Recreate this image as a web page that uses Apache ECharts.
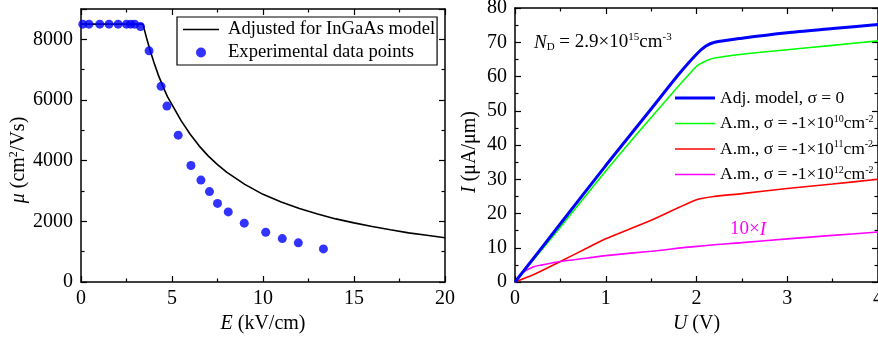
<!DOCTYPE html>
<html><head><meta charset="utf-8">
<script src="https://cdn.jsdelivr.net/npm/echarts@6/dist/echarts.min.js"></script>
<style>html,body{margin:0;padding:0;background:#fff}#c{width:878px;height:341px}</style>
</head><body><div id="c"></div>
<script>
// Left panel: mobility vs field
const modelE  = [0, 3.4, 3.5, 3.6, 3.8, 4, 4.25, 4.5, 4.75, 5, 5.5, 6, 6.5, 7, 7.5, 8, 9, 10, 11, 12, 13, 14, 15, 16, 17, 18, 19, 20];
const modelMu = [8500, 8500, 8280, 8050, 7630, 7250, 6820, 6450, 6110, 5850, 5320, 4870, 4480, 4150, 3870, 3620, 3220, 2890, 2640, 2420, 2240, 2080, 1950, 1830, 1720, 1620, 1540, 1460];
const expE  = [0.1, 0.44, 1.03, 1.54, 2.04, 2.5, 2.73, 2.95, 3.27, 3.74, 4.40, 4.72, 5.34, 6.04, 6.59, 7.06, 7.50, 8.09, 8.97, 10.15, 11.06, 11.94, 13.32];
const expMu = [8500, 8500, 8500, 8500, 8500, 8500, 8500, 8500, 8420, 7620, 6450, 5800, 4840, 3840, 3360, 2980, 2590, 2310, 1940, 1640, 1430, 1290, 1090];
// Right panel: current vs voltage
const uBlue = [0, 0.5, 1, 1.5, 1.8, 2, 2.1, 2.2, 2.5, 3, 3.5, 4];
const iBlue = [0, 17, 34, 50.5, 60.5, 66.5, 68.8, 70, 71.2, 72.8, 74, 75.2];
const uGreen = [0, 0.5, 1, 1.5, 2, 2.1, 2.2, 2.5, 3, 3.5, 4];
const iGreen = [0, 16, 32.4, 48, 63, 64.5, 65.4, 66.5, 67.8, 69.1, 70.4];
const uRed = [0, 0.2, 0.5, 0.8, 1, 1.5, 2, 2.2, 2.5, 3, 3.5, 4];
const iRed = [0, 2.1, 6, 10, 12.6, 18, 24, 25, 25.8, 27.3, 28.6, 30];
const uMag = [0, 0.1, 0.2, 0.3, 0.5, 0.8, 1, 1.5, 2, 2.5, 3, 3.5, 4];
const iMag = [0, 3.0, 4.4, 5.0, 6.0, 7.0, 7.7, 9.0, 10.4, 11.5, 12.6, 13.6, 14.6];
const leftXTicks = [0, 5, 10, 15, 20];
const leftYTicks = [0, 2000, 4000, 6000, 8000];
const rightXTicks = [0, 1, 2, 3, 4];
const rightYTicks = [0, 10, 20, 30, 40, 50, 60, 70, 80];
const seriesNames = ['Adjusted for InGaAs model', 'Experimental data points', 'Adj. model, σ = 0', 'A.m., σ = -1×10^10', 'A.m., σ = -1×10^11', 'A.m., σ = -1×10^12'];

const zip = (a, b) => a.map((v, i) => [v, b[i]]);
const FONT = 'Liberation Serif';
const FS = 20;
function rich(fs) {
  return {
    i: {fontStyle: 'italic', fontFamily: FONT, fontSize: fs, color: '#000'},
    sup: {fontSize: Math.round(fs * 0.58), fontFamily: FONT, verticalAlign: 'top', padding: [0, 0, Math.round(fs * 0.52), 0], color: '#000'},
    sub: {fontSize: Math.round(fs * 0.58), fontFamily: FONT, padding: [Math.round(fs * 0.47), 0, 0, 0], color: '#000'}
  };
}
function axisCommon(min, max, interval, showLabel, pos) {
  return {
    type: 'value', min, max, interval, position: pos,
    axisLine: {show: true, onZero: false, lineStyle: {color: '#000', width: 1.5}},
    axisTick: {show: true, inside: true, length: 6, lineStyle: {color: '#000', width: 1.2}},
    minorTick: {show: true, splitNumber: 2, length: 3.5, lineStyle: {color: '#000', width: 1.2}},
    splitLine: {show: false},
    axisLabel: {show: showLabel, color: '#000', fontFamily: FONT, fontSize: FS, margin: 7, hideOverlap: false, showMinLabel: true, showMaxLabel: true}
  };
}
const lineIcon = (w, h) => 'path://M0,0L' + w + ',0L' + w + ',' + h + 'L0,' + h + 'Z';
const chart = echarts.init(document.getElementById('c'), null, {renderer: 'canvas'});
const option = {
  backgroundColor: '#fff',
  animation: false,
  textStyle: {fontFamily: FONT},
  grid: [
    {left: 81, right: 433, top: 9, bottom: 59, containLabel: false, outerBoundsMode: 'none'},
    {left: 515, right: 0, top: 8, bottom: 59, containLabel: false, outerBoundsMode: 'none'}
  ],
  xAxis: [
    Object.assign(axisCommon(leftXTicks[0], leftXTicks[leftXTicks.length - 1], 5, true, 'bottom'), {gridIndex: 0,
      name: '{i|E} (kV/cm)', nameLocation: 'middle', nameGap: 30,
      nameTextStyle: {fontFamily: FONT, fontSize: FS, color: '#000', rich: rich(FS)}}),
    Object.assign(axisCommon(leftXTicks[0], leftXTicks[leftXTicks.length - 1], 5, false, 'top'), {gridIndex: 0}),
    Object.assign(axisCommon(rightXTicks[0], rightXTicks[rightXTicks.length - 1], 1, true, 'bottom'), {gridIndex: 1,
      name: '{i|U} (V)', nameLocation: 'middle', nameGap: 30,
      nameTextStyle: {fontFamily: FONT, fontSize: FS, color: '#000', rich: rich(FS)}}),
    Object.assign(axisCommon(rightXTicks[0], rightXTicks[rightXTicks.length - 1], 1, false, 'top'), {gridIndex: 1})
  ],
  yAxis: [
    Object.assign(axisCommon(0, 9000, 2000, true, 'left'), {gridIndex: 0,
      axisLabel: {color: '#000', fontFamily: FONT, fontSize: FS, margin: 8, formatter: v => leftYTicks.includes(v) ? String(v) : ''},
      name: '{i|μ} (cm{sup|2}/Vs)', nameLocation: 'middle', nameGap: 50, nameRotate: 90,
      nameTextStyle: {fontFamily: FONT, fontSize: FS, color: '#000', padding: [0, 29, 0, 0], rich: rich(FS)}}),
    Object.assign(axisCommon(0, 9000, 2000, false, 'right'), {gridIndex: 0}),
    Object.assign(axisCommon(rightYTicks[0], rightYTicks[rightYTicks.length - 1], 10, true, 'left'), {gridIndex: 1,
      axisLabel: {color: '#000', fontFamily: FONT, fontSize: FS, margin: 8},
      name: '{i|I} (μA/μm)', nameLocation: 'middle', nameGap: 35, nameRotate: 90,
      nameTextStyle: {fontFamily: FONT, fontSize: FS, color: '#000', padding: [0, 14, 0, 0], rich: rich(FS)}}),
    Object.assign(axisCommon(rightYTicks[0], rightYTicks[rightYTicks.length - 1], 10, false, 'right'), {gridIndex: 1})
  ],
  legend: [
    {
      id: 'legLeft',
      data: [{name: seriesNames[0], icon: lineIcon(36, 1.6)}, {name: seriesNames[1], icon: 'circle'}],
      orient: 'vertical', left: 177, top: 17,
      padding: [3, 2, 3, 6], itemGap: 4, itemWidth: 36, itemHeight: 10,
      borderColor: '#000', borderWidth: 1.2, borderRadius: 0,
      textStyle: {fontFamily: FONT, fontSize: 18.6, color: '#000', padding: [0, 0, 0, 4]}
    },
    {
      id: 'legRight',
      data: [
        {name: seriesNames[2], icon: lineIcon(40, 3)},
        {name: seriesNames[3], icon: lineIcon(40, 1.6)},
        {name: seriesNames[4], icon: lineIcon(40, 1.6)},
        {name: seriesNames[5], icon: lineIcon(40, 1.6)}
      ],
      orient: 'vertical', left: 675, top: 89, padding: 0, itemGap: 7, itemWidth: 40, itemHeight: 14,
      formatter: function (n) {
        if (n === seriesNames[2]) return n;
        const e = n.split('^')[1];
        return 'A.m., σ = -1×10{sup|' + e + '}cm{sup|-2}';
      },
      textStyle: {fontFamily: FONT, fontSize: 17.5, color: '#000', padding: [0, 0, 0, 0], rich: rich(17.5)}
    }
  ],
  title: [
    {text: '{i|N}{sub|D} = 2.9×10{sup|15}cm{sup|-3}', left: 529, top: 27,
      textStyle: {fontFamily: FONT, fontSize: 19, fontWeight: 'normal', color: '#000', rich: rich(19)}},
    {text: '10×{im|I}', left: 725, top: 215,
      textStyle: {fontFamily: FONT, fontSize: 19, fontWeight: 'normal', color: '#ff00ff',
        rich: {im: {fontStyle: 'italic', fontFamily: FONT, fontSize: 19, color: '#ff00ff'}}}}
  ],
  series: [
    {name: seriesNames[0], type: 'line', xAxisIndex: 0, yAxisIndex: 0, data: zip(modelE, modelMu),
      smooth: false, showSymbol: false, symbol: 'none', lineStyle: {color: '#000', width: 1.6}, itemStyle: {color: '#000'}, z: 2},
    {name: seriesNames[1], type: 'scatter', xAxisIndex: 0, yAxisIndex: 0, data: zip(expE, expMu),
      symbol: 'circle', symbolSize: 9, itemStyle: {color: '#0000ff'}, z: 3},
    {name: seriesNames[2], type: 'line', xAxisIndex: 2, yAxisIndex: 2, data: zip(uBlue, iBlue),
      smooth: 0.25, showSymbol: false, symbol: 'none', lineStyle: {color: '#0000ff', width: 3}, itemStyle: {color: '#0000ff'}, z: 5},
    {name: seriesNames[3], type: 'line', xAxisIndex: 2, yAxisIndex: 2, data: zip(uGreen, iGreen),
      smooth: 0.25, showSymbol: false, symbol: 'none', lineStyle: {color: '#00ff00', width: 1.6}, itemStyle: {color: '#00ff00'}, z: 4},
    {name: seriesNames[4], type: 'line', xAxisIndex: 2, yAxisIndex: 2, data: zip(uRed, iRed),
      smooth: 0.25, showSymbol: false, symbol: 'none', lineStyle: {color: '#ff0000', width: 1.6}, itemStyle: {color: '#ff0000'}, z: 3},
    {name: seriesNames[5], type: 'line', xAxisIndex: 2, yAxisIndex: 2, data: zip(uMag, iMag),
      smooth: 0.3, showSymbol: false, symbol: 'none', lineStyle: {color: '#ff00ff', width: 1.6}, itemStyle: {color: '#ff00ff'}, z: 3}
  ]
};
chart.setOption(option);
</script></body></html>
